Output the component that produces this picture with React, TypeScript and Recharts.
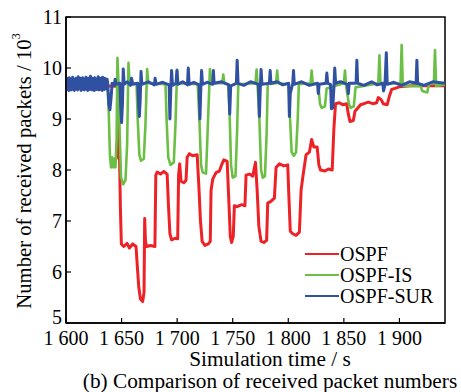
import { LineChart, Line, XAxis, YAxis, ReferenceArea } from "recharts";

const xTicks = [1600, 1650, 1700, 1750, 1800, 1850, 1900];
const yTicks = [5, 6, 7, 8, 9, 10, 11];

// [time s, packets / 10^3]
const ospf: [number, number][] = [
  [1600, 9.66], [1646.5, 9.64], [1647, 8.25], [1648.2, 8.2], [1649, 7.2], [1649.8, 6.55],
  [1652, 6.5], [1655, 6.56], [1657, 6.47], [1660, 6.55], [1663, 6.5], [1664.2, 6.1],
  [1665.5, 5.7], [1667, 5.47], [1669, 5.42], [1670.2, 5.6], [1670.8, 7.05], [1671.5, 6.6],
  [1672.5, 6.5], [1676, 6.52], [1680, 6.5], [1680.8, 7.9], [1682, 7.96], [1685, 7.92],
  [1688, 7.97], [1691, 7.92], [1692.2, 7.3], [1693.5, 6.75], [1695, 6.63], [1698, 6.66],
  [1700.5, 6.65], [1701.3, 7.9], [1702.3, 8.12], [1703.5, 7.78], [1706, 7.75], [1708, 7.8],
  [1709, 8.25], [1711, 8.32], [1714, 8.28], [1718, 8.3], [1719.5, 7.7], [1721, 7.0],
  [1722.5, 6.6], [1725, 6.52], [1728, 6.55], [1729.8, 6.6], [1730.5, 7.6], [1732, 7.82],
  [1735, 7.95], [1738, 7.98], [1740, 8.1], [1742, 8.2], [1745, 8.17], [1746.5, 7.4],
  [1747.8, 6.7], [1749, 6.58], [1750.5, 6.7], [1751.5, 7.3], [1754, 7.28], [1758, 7.32],
  [1761, 7.3], [1762, 7.9], [1765, 7.92], [1768, 7.88], [1770.5, 8.15], [1772, 7.6],
  [1773.5, 6.9], [1775.5, 6.6], [1778, 6.58], [1780.5, 6.62], [1781.5, 7.35], [1784, 7.38],
  [1787.5, 7.45], [1789, 8.05], [1792, 8.12], [1796, 8.08], [1799.5, 8.1], [1800.5, 7.5],
  [1801.8, 6.8], [1804, 6.75], [1807, 6.72], [1810, 6.78], [1811.5, 7.6], [1813, 7.85],
  [1816, 8.3], [1819, 8.35], [1821, 8.6], [1823, 8.45], [1826, 8.45], [1827.5, 8.1],
  [1829, 8.0], [1833, 7.98], [1836, 8.02], [1839.5, 8.0], [1841, 8.8], [1842.5, 9.3],
  [1846, 9.32], [1849, 9.28], [1852.5, 9.3], [1854, 9.1], [1855.5, 8.95], [1858.5, 8.97],
  [1860, 9.15], [1862, 9.2], [1865, 9.28], [1868, 9.3], [1872, 9.33], [1876, 9.3],
  [1879.5, 9.32], [1881, 9.42], [1883.5, 9.38], [1885.5, 9.3], [1889, 9.28], [1891, 9.45],
  [1893, 9.58], [1896, 9.6], [1900, 9.63], [1910, 9.65], [1941, 9.65],
];

const ospfIs: [number, number][] = [
  [1600, 9.62], [1610, 9.66], [1620, 9.6], [1630, 9.64], [1637.5, 9.62], [1638.5, 9.1],
  [1639.5, 8.3], [1640.5, 8.05], [1641.5, 8.25], [1642.5, 8.05], [1643.5, 8.22], [1644.5, 8.05],
  [1645.5, 8.6], [1646.3, 10.2], [1647.2, 9.7], [1648.2, 8.8], [1649.5, 7.85], [1651.5, 7.72],
  [1653.5, 7.8], [1655, 8.5], [1656.2, 10.1], [1657.2, 9.72], [1663.5, 9.68], [1664.5, 9.0],
  [1666, 8.3], [1667.5, 8.18], [1670, 8.22], [1671.5, 8.9], [1673, 9.98], [1674, 9.7],
  [1689.5, 9.68], [1690.5, 9.0], [1692, 8.25], [1694, 8.1], [1697, 8.15], [1698.5, 8.9],
  [1700, 9.97], [1701, 9.7], [1718.5, 9.68], [1720, 9.0], [1721.5, 8.1], [1723, 7.95],
  [1726, 7.93], [1727.5, 8.8], [1729.5, 9.98], [1730.5, 9.7], [1740.5, 9.7], [1741.5, 9.87],
  [1742.5, 9.7], [1746, 9.68], [1747.2, 9.1], [1748.5, 8.1], [1750, 7.85], [1752.5, 7.88],
  [1754, 8.8], [1755, 9.68], [1770.5, 9.7], [1771.5, 9.97], [1772.5, 9.6], [1774, 9.0],
  [1775.5, 8.0], [1777, 7.85], [1779, 7.88], [1780.5, 8.7], [1781.5, 9.68], [1789, 9.7],
  [1790, 9.95], [1791, 9.7], [1800.5, 9.68], [1801.5, 9.05], [1803, 8.35], [1805, 8.28],
  [1807, 8.35], [1808.5, 9.0], [1809.5, 9.68], [1820, 9.7], [1821, 9.95], [1822, 9.7],
  [1827, 9.68], [1828.5, 9.3], [1830, 9.22], [1833, 9.25], [1834.5, 9.6], [1850, 9.7],
  [1851, 9.95], [1852, 9.65], [1854.5, 9.3], [1856, 9.22], [1859, 9.25], [1860.5, 9.62],
  [1881, 9.7], [1882, 10.25], [1883, 9.68], [1901, 9.7], [1902, 10.45], [1903, 9.65],
  [1919, 9.65], [1920.5, 9.55], [1925, 9.52], [1926.5, 9.68], [1931, 9.7], [1932, 10.35],
  [1933, 9.65], [1941, 9.68],
];

// OSPF-SUR, samples every 0.5 s from 1600 s to 1637 s (noisy start)
const surWarmup = [
  9.72, 9.58, 9.8, 9.62, 9.76, 9.56, 9.81, 9.6, 9.74, 9.57, 9.79, 9.63, 9.82, 9.58, 9.7,
  9.56, 9.78, 9.61, 9.8, 9.59, 9.75, 9.57, 9.83, 9.6, 9.77, 9.62, 9.8, 9.56, 9.73, 9.58,
  9.81, 9.6, 9.76, 9.57, 9.79, 9.63, 9.82, 9.59, 9.74, 9.56, 9.8, 9.61, 9.78, 9.58, 9.84,
  9.6, 9.75, 9.57, 9.8, 9.62, 9.77, 9.56, 9.81, 9.59, 9.74, 9.58, 9.79, 9.6, 9.83, 9.57,
  9.76, 9.61, 9.8, 9.58, 9.73, 9.56, 9.82, 9.6, 9.77, 9.58, 9.8, 9.62, 9.75, 9.59, 9.78,
];

const ospfSur: [number, number][] = [
  [1637.5, 9.7], [1638.5, 9.3], [1639.5, 9.18], [1640.5, 9.4], [1641.5, 9.7], [1643.5, 9.66],
  [1644.2, 9.78], [1645, 9.68], [1648.5, 9.7], [1649.3, 9.2], [1650, 8.93], [1650.8, 9.3],
  [1651.5, 9.98], [1652.3, 9.68], [1655, 9.73], [1658, 9.66], [1659, 9.8], [1660, 9.68],
  [1664.5, 9.7], [1665.3, 9.3], [1666, 9.05], [1666.8, 9.4], [1667.5, 9.93], [1668.3, 9.68],
  [1674, 9.73], [1679.5, 9.67], [1680.2, 9.8], [1681, 9.68], [1687, 9.72], [1692.8, 9.67],
  [1693.5, 9.0], [1694.3, 9.6], [1695, 9.95], [1695.8, 9.66], [1699, 9.7], [1699.8, 9.95],
  [1700.6, 9.68], [1705, 9.73], [1709.3, 9.67], [1710, 10.0], [1710.8, 9.68], [1715, 9.72],
  [1719.8, 9.67], [1720.5, 9.0], [1721.3, 9.6], [1722, 9.95], [1722.8, 9.68], [1727, 9.72],
  [1732, 9.68], [1732.6, 9.95], [1733.3, 9.7], [1740, 9.73], [1746.5, 9.67], [1747.3, 9.1],
  [1748.2, 9.65], [1753.3, 9.7], [1754, 10.15], [1754.8, 9.7], [1760, 9.66], [1766, 9.73],
  [1773.2, 9.68], [1774, 9.05], [1774.8, 9.6], [1775.5, 9.97], [1776.3, 9.68], [1783, 9.7],
  [1783.7, 9.95], [1784.4, 9.7], [1790, 9.73], [1795, 9.67], [1800.3, 9.7], [1801, 9.05],
  [1801.8, 9.5], [1804, 9.7], [1804.7, 9.95], [1805.4, 9.68], [1812, 9.73], [1819, 9.66],
  [1826.3, 9.7], [1827, 9.5], [1827.8, 9.68], [1834, 9.7], [1834.7, 9.9], [1835.4, 9.7],
  [1838, 9.68], [1838.8, 9.2], [1840, 9.22], [1841, 9.6], [1841.8, 10.0], [1842.6, 9.7],
  [1847, 9.73], [1853.3, 9.68], [1854, 9.5], [1854.8, 9.7], [1861, 9.7], [1861.7, 10.15],
  [1862.4, 9.7], [1868, 9.66], [1875, 9.73], [1880, 9.67], [1885, 9.7], [1885.7, 9.55],
  [1887, 9.68], [1888.2, 10.3], [1889, 9.68], [1895, 9.72], [1902, 9.66], [1909, 9.73],
  [1915, 9.7], [1915.7, 10.15], [1916.4, 9.7], [1922, 9.66], [1930, 9.73], [1941, 9.7],
];

const surPoints: [number, number][] = [
  ...surWarmup.map((v, i) => [1600 + i * 0.5, v] as [number, number]),
  ...ospfSur,
];

const series = [
  { name: "OSPF", color: "#ec2227", width: 3, data: ospf },
  { name: "OSPF-IS", color: "#6cbf45", width: 2.6, data: ospfIs },
  { name: "OSPF-SUR", color: "#3050a2", width: 3, data: surPoints },
];

const FONT = '"Liberation Serif", "Times New Roman", serif';

const fmtX = (v: number) => `${Math.floor(v / 1000)} ${String(v % 1000).padStart(3, "0")}`;

function XTick({ x, y, payload }: any) {
  return (
    <g>
      <line x1={x} y1={y} x2={x} y2={y - 5} stroke="#000" strokeWidth={1.2} />
      <text x={x} y={y + 22} textAnchor="middle" fontSize={20} fontFamily={FONT} fill="#000">
        {fmtX(payload.value)}
      </text>
    </g>
  );
}

function YTick({ x, y, payload }: any) {
  return (
    <g>
      <line x1={x} y1={y} x2={x + 5} y2={y} stroke="#000" strokeWidth={1.2} />
      <text
        x={x - 4}
        y={payload.value === 5 ? y + 1 : y + 7}
        textAnchor="end"
        fontSize={20}
        fontFamily={FONT}
        fill="#000"
      >
        {payload.value}
      </text>
    </g>
  );
}

export default function App() {
  return (
    <div style={{ position: "absolute", left: 0, top: 0, width: 461, height: 392, background: "#fff" }}>
      <LineChart width={461} height={392} margin={{ top: 17, right: 16, left: 0, bottom: 0 }}>
        <XAxis
          dataKey="t"
          type="number"
          domain={[1600, 1941]}
          ticks={xTicks}
          allowDataOverflow
          height={69}
          tickSize={0}
          tickMargin={0}
          tickLine={false}
          axisLine={{ stroke: "#000", strokeWidth: 1.5 }}
          tick={<XTick />}
        />
        <YAxis
          type="number"
          domain={[5, 11]}
          ticks={yTicks}
          allowDataOverflow
          width={66}
          tickSize={0}
          tickMargin={0}
          tickLine={false}
          axisLine={{ stroke: "#000", strokeWidth: 1.5 }}
          tick={<YTick />}
        />
        {series.map((s) => (
          <Line
            key={s.name}
            name={s.name}
            data={s.data.map(([t, v]) => ({ t, v }))}
            dataKey="v"
            type="linear"
            stroke={s.color}
            strokeWidth={s.width}
            strokeLinejoin="round"
            dot={false}
            activeDot={false}
            isAnimationActive={false}
          />
        ))}
        <ReferenceArea x1={1600} x2={1941} y1={5} y2={11} fill="none" stroke="#000" strokeWidth={1.5} />
      </LineChart>
      <svg
        width={461}
        height={392}
        style={{ position: "absolute", left: 0, top: 0, pointerEvents: "none", fontFamily: FONT }}
      >
        <text
          transform="translate(24,171) rotate(-90)"
          textAnchor="middle"
          dominantBaseline="central"
          fontSize={20.7}
          fill="#000"
        >
          Number of received packets / 10<tspan dy={-8} fontSize={12}>3</tspan>
        </text>
        <text x={270} y={366} textAnchor="middle" fontSize={21.3} fill="#000">
          Simulation time / s
        </text>
        <text x={270} y={388} textAnchor="middle" fontSize={21.3} fill="#000">
          (b) Comparison of received packet numbers
        </text>
        {series.map((s, i) => (
          <g key={s.name}>
            <line x1={305} x2={339} y1={254 + i * 21} y2={254 + i * 21} stroke={s.color} strokeWidth={2.2} />
            <text x={340} y={261 + i * 21} fontSize={20} fill="#000">
              {s.name}
            </text>
          </g>
        ))}
      </svg>
    </div>
  );
}
